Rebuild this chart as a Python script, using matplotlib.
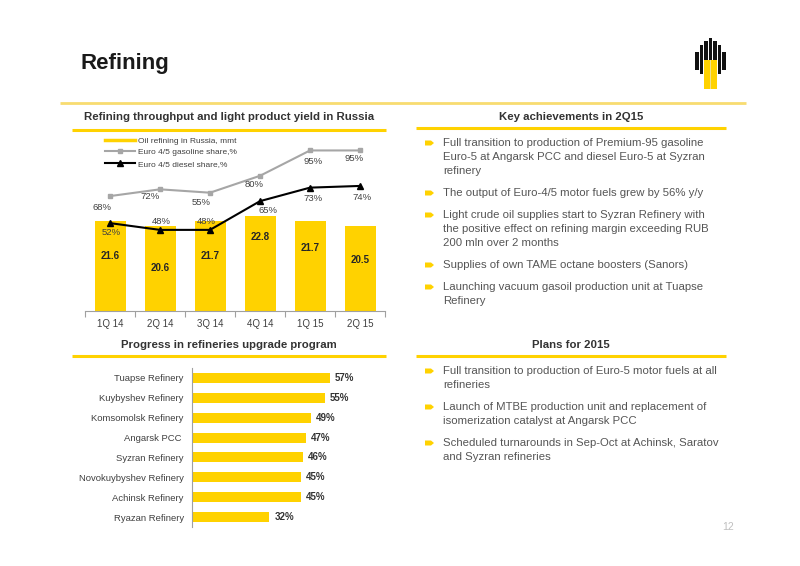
# Refining slide: throughput chart, upgrade progress bars and text blocks
import numpy as np
import matplotlib.pyplot as plt
from matplotlib.lines import Line2D
from matplotlib.patches import Rectangle, Polygon

plt.rcParams['font.family'] = ['Liberation Sans', 'DejaVu Sans']

# Data
quarters = ["1Q 14", "2Q 14", "3Q 14", "4Q 14", "1Q 15", "2Q 15"]
throughput = [21.6, 20.6, 21.7, 22.8, 21.7, 20.5]
# the 3Q 14 gasoline marker sits near 70% in the source although it is labelled 55%
gasoline = [68, 72, 70, 80, 95, 95]
gasoline_labels = ["68%", "72%", "55%", "80%", "95%", "95%"]
diesel = [52, 48, 48, 65, 73, 74]

refineries = ["Tuapse Refinery", "Kuybyshev Refinery", "Komsomolsk Refinery",
              "Angarsk PCC ", "Syzran Refinery", "Novokuybyshev Refinery",
              "Achinsk Refinery", "Ryazan Refinery"]
progress = [57, 55, 49, 47, 46, 45, 45, 32]

key_points = [
    ["Full transition to production of Premium-95 gasoline",
     "Euro-5 at Angarsk PCC and diesel Euro-5 at Syzran",
     "refinery"],
    ["The output of Euro-4/5 motor fuels grew by 56% y/y"],
    ["Light crude oil supplies start to Syzran Refinery with",
     "the positive effect on refining margin exceeding RUB",
     "200 mln over 2 months"],
    ["Supplies of own TAME octane boosters (Sanors)"],
    ["Launching vacuum gasoil production unit at Tuapse",
     "Refinery"],
]
plans = [
    ["Full transition to production of Euro-5 motor fuels at all",
     "refineries"],
    ["Launch of MTBE production unit and replacement of",
     "isomerization catalyst at Angarsk PCC"],
    ["Scheduled turnarounds in Sep-Oct at Achinsk, Saratov",
     "and Syzran refineries"],
]

YELLOW = '#FFD200'
TXT = '#404040'

fig = plt.figure(figsize=(8, 5.66), dpi=100)

# page layer in pixel coordinates
page = fig.add_axes([0, 0, 1, 1])
page.set_xlim(0, 800)
page.set_ylim(566, 0)
page.axis('off')

page.text(80, 64, "Refining", fontsize=16, fontweight='bold', color='#1a1a1a', va='center')
page.plot([60, 746], [103, 103], color='#F8DC70', lw=2, solid_capstyle='butt')

headers = [(229, 117, 72, 386, 130, "Refining throughput and light product yield in Russia"),
           (571, 117, 416, 726, 128, "Key achievements in 2Q15"),
           (229, 345, 72, 386, 356, "Progress in refineries upgrade program"),
           (571, 345, 416, 726, 356, "Plans for 2015")]
for cx, ty, x0, x1, ly, txt in headers:
    page.text(cx, ty, txt, ha='center', va='center', fontsize=8.2, fontweight='bold', color='#333333')
    page.plot([x0, x1], [ly, ly], color=YELLOW, lw=2.2, solid_capstyle='butt')


def bullets(items, y):
    for lines in items:
        page.add_patch(Polygon([(425, y - 2.5), (431, y - 2.5), (434, y), (431, y + 2.5), (425, y + 2.5)],
                               closed=True, color=YELLOW, lw=0))
        for ln in lines:
            page.text(443, y, ln, fontsize=8.2, color='#555555', va='center')
            y += 14
        y += 8


bullets(key_points, 143)
bullets(plans, 371)

page.text(728, 527, "12", fontsize=7.5, color='#BFBFBF', ha='center', va='center')

# logo (simplified)
stripe_x = [697, 701.5, 706, 710.5, 715, 719.5, 724]
stripe_top = [52, 45, 41, 38, 41, 45, 52]
stripe_bot = [70, 74, 60, 60, 60, 74, 70]
for sx, st, sb in zip(stripe_x, stripe_top, stripe_bot):
    page.add_patch(Rectangle((sx - 1.6, st), 3.2, sb - st, color='#111111', lw=0))
page.add_patch(Rectangle((704, 60), 13, 29, color=YELLOW, lw=0))
page.add_patch(Rectangle((709.6, 60), 1.8, 29, color='#F0E090', lw=0))

# throughput chart
ax = fig.add_axes([85 / 800, 1 - 311 / 566, 300 / 800, 176 / 566])
ax.set_facecolor('none')
x = np.arange(len(quarters))
ax.bar(x, throughput, width=0.62, color=YELLOW, zorder=1)
ax.set_xlim(-0.5, len(quarters) - 0.5)
ax.set_ylim(0, 176 / 4.15)
for s in ['top', 'right', 'left']:
    ax.spines[s].set_visible(False)
ax.spines['bottom'].set_color('#A0A0A0')
ax.spines['bottom'].set_linewidth(0.8)
ax.set_yticks([])
ax.set_xticks(x)
ax.set_xticklabels(quarters, fontsize=7, color=TXT)
ax.set_xticks(np.arange(len(quarters) + 1) - 0.5, minor=True)
ax.tick_params(axis='x', which='major', length=0, pad=6)
ax.tick_params(axis='x', which='minor', length=4, color='#A0A0A0', width=0.8)

lab_frac = [0.61, 0.50, 0.61, 0.78, 0.70, 0.60]
for xi, v, f in zip(x, throughput, lab_frac):
    ax.text(xi, v * f, f"{v}", ha='center', va='center', fontsize=7, fontweight='bold', color='#262626')

ax2 = ax.twinx()
ax2.set_ylim(0, 176 / 1.69)
for s in ax2.spines.values():
    s.set_visible(False)
ax2.set_yticks([])
ax2.plot(x, gasoline, color='#A6A6A6', lw=1.5, marker='s', ms=3.5, zorder=3)
ax2.plot(x, diesel, color='black', lw=1.5, marker='^', ms=5, zorder=4)

gas_off = [(-6, -8), (-7, -5), (-6.5, -7), (-4, -6), (2, -8), (-4, -6)]
dsl_off = [(0.7, -6.5), (0.7, 6), (-3, 6), (6, -7), (2, -8), (1.5, -8.5)]
for xi, v, lab, off in zip(x, gasoline, gasoline_labels, gas_off):
    ax2.annotate(lab, (xi, v), xytext=off, textcoords='offset points',
                 ha='center', va='center', fontsize=6.8, color=TXT)
for xi, v, off in zip(x, diesel, dsl_off):
    ax2.annotate(f"{v}%", (xi, v), xytext=off, textcoords='offset points',
                 ha='center', va='center', fontsize=6.8, color=TXT)

handles = [Line2D([], [], color=YELLOW, lw=2.5),
           Line2D([], [], color='#A6A6A6', lw=1.5, marker='s', ms=3.5),
           Line2D([], [], color='black', lw=1.5, marker='^', ms=5)]
ax2.legend(handles, ["Oil refining in Russia, mmt", "Euro 4/5 gasoline share,%", "Euro 4/5 diesel share,%"],
           loc='upper left', bbox_to_anchor=(0.067, 0.99), frameon=False, fontsize=6,
           handlelength=3.6, handletextpad=0.3, labelspacing=0.45, borderpad=0, borderaxespad=0,
           labelcolor=TXT)

# upgrade progress chart
bx = fig.add_axes([192 / 800, 1 - 527 / 566, 208 / 800, 159 / 566])
bx.set_facecolor('none')
yy = np.arange(len(refineries))
bx.barh(yy, progress, height=0.5, color=YELLOW)
bx.set_ylim(len(refineries) - 0.5, -0.5)
bx.set_xlim(0, 208 / 2.42)
for s in ['top', 'right', 'bottom']:
    bx.spines[s].set_visible(False)
bx.spines['left'].set_color('#A0A0A0')
bx.spines['left'].set_linewidth(0.8)
bx.set_xticks([])
bx.set_yticks(yy)
bx.set_yticklabels(refineries, fontsize=6.8, color=TXT)
bx.tick_params(axis='y', length=0, pad=6)
for yi, v in zip(yy, progress):
    bx.text(v + 2, yi, f"{v}%", va='center', fontsize=7, fontweight='bold', color='#333333')

fig.savefig("out.png", dpi=100)
